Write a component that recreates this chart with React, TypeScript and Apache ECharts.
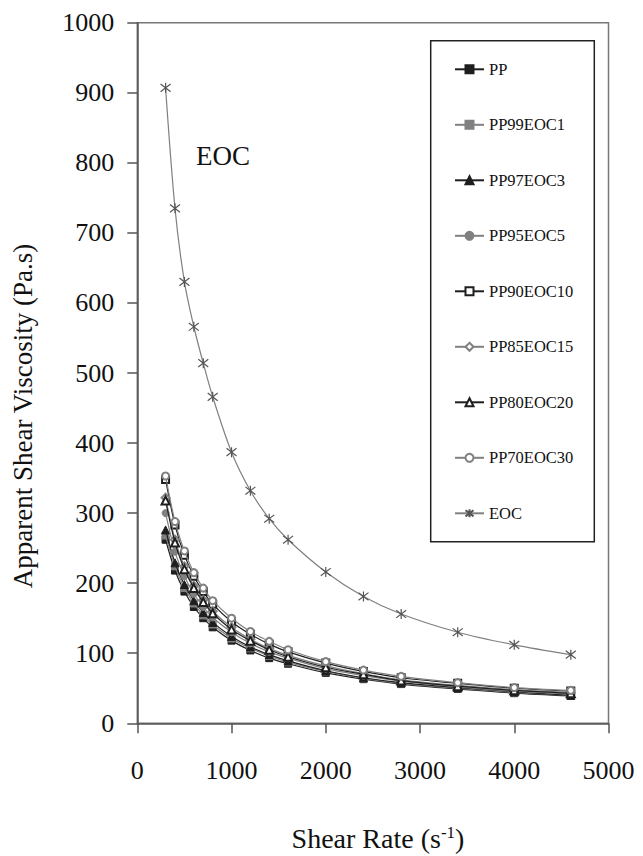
import React, { useEffect, useRef } from "react";
import * as echarts from "echarts";

const shearRates = [300, 400, 500, 600, 700, 800, 1000, 1200, 1400, 1600, 2000, 2400, 2800, 3400, 4000, 4600];

const seriesNames = ["PP", "PP99EOC1", "PP97EOC3", "PP95EOC5", "PP90EOC10", "PP85EOC15", "PP80EOC20", "PP70EOC30", "EOC"];

const ppValues = [262, 218, 188, 166, 150, 137, 118, 104, 93, 85, 72, 63, 56, 49, 43, 39];
const pp99eoc1Values = [268, 224, 193, 171, 154, 141, 121, 107, 96, 87, 74, 64, 57, 50, 44, 40];
const pp97eoc3Values = [276, 229, 198, 175, 158, 144, 124, 109, 98, 89, 75, 65, 58, 51, 45, 40];
const pp95eoc5Values = [300, 245, 210, 185, 166, 151, 130, 114, 102, 93, 78, 68, 60, 52, 46, 42];
const pp90eoc10Values = [348, 283, 240, 210, 188, 170, 145, 127, 113, 102, 86, 74, 65, 57, 50, 46];
const pp85eoc15Values = [322, 262, 224, 196, 176, 160, 137, 120, 107, 97, 82, 71, 62, 54, 48, 44];
const pp80eoc20Values = [318, 258, 220, 193, 173, 157, 134, 118, 105, 95, 80, 70, 61, 53, 47, 43];
const pp70eoc30Values = [353, 288, 246, 215, 193, 175, 150, 131, 117, 105, 88, 76, 67, 58, 51, 47];
const eocValues = [907, 735, 630, 566, 514, 466, 387, 332, 292, 262, 216, 181, 156, 130, 112, 98];

const xTicks = { min: 0, max: 5000, interval: 1000 };
const yTicks = { min: 0, max: 1000, interval: 100 };

const FONT = "Liberation Serif";
const BLACK = "#1e1e1e";
const GRAY = "#808080";
const STAR = "path://M0,0 L10,10 M10,0 L0,10 M5,-1.5 L5,11.5";

const styles = [
  { symbol: "rect", size: 7, color: BLACK },
  { symbol: "rect", size: 7, color: GRAY },
  { symbol: "triangle", size: 8, color: BLACK },
  { symbol: "circle", size: 7, color: GRAY },
  { symbol: "emptyRect", size: 7, color: BLACK },
  { symbol: "emptyDiamond", size: 8, color: GRAY },
  { symbol: "emptyTriangle", size: 8, color: BLACK },
  { symbol: "emptyCircle", size: 7, color: GRAY },
  { symbol: STAR, size: 10, color: GRAY },
];

const allValues = [
  ppValues,
  pp99eoc1Values,
  pp97eoc3Values,
  pp95eoc5Values,
  pp90eoc10Values,
  pp85eoc15Values,
  pp80eoc20Values,
  pp70eoc30Values,
  eocValues,
];

export default function App() {
  const ref = useRef<HTMLDivElement>(null);
  useEffect(() => {
    if (!ref.current) return;
    const chart = echarts.init(ref.current, null, { renderer: "svg" });
    const series = allValues.map((vals, i) => {
      const st = styles[i];
      const isStar = i === 8;
      return {
        name: seriesNames[i],
        type: "line",
        smooth: 0.3,
        data: shearRates.map((x, j) => [x, vals[j]]),
        symbol: st.symbol,
        symbolSize: st.size,
        showAllSymbol: true,
        lineStyle: { color: st.color, width: 1.2 },
        itemStyle: isStar
          ? { color: "#555", borderColor: "#555", borderWidth: 1.2 }
          : { color: st.color, borderColor: st.color, borderWidth: 1 },
        z: isStar ? 3 : 2 + i * 0.01,
      };
    });
    chart.setOption({
      animation: false,
      backgroundColor: "#fff",
      textStyle: { fontFamily: FONT },
      grid: { left: 137.3, top: 22.7, right: 34.5, bottom: 132.7, show: true, borderColor: "#777", borderWidth: 1.5 },
      xAxis: {
        type: "value",
        ...xTicks,
        axisLine: { show: true, lineStyle: { color: "#555", width: 1.5 } },
        axisTick: { show: true, inside: false, length: 10, lineStyle: { color: "#555", width: 1.5 } },
        splitLine: { show: false },
        axisLabel: { fontSize: 26, fontFamily: FONT, color: "#111", margin: 34, formatter: (v: number) => String(v) },
      },
      yAxis: {
        type: "value",
        ...yTicks,
        axisLine: { show: true, lineStyle: { color: "#555", width: 1.5 } },
        axisTick: { show: true, inside: false, length: 10, lineStyle: { color: "#555", width: 1.5 } },
        splitLine: { show: false },
        axisLabel: { fontSize: 26, fontFamily: FONT, color: "#111", margin: 23, formatter: (v: number) => String(v) },
      },
      legend: {
        orient: "vertical",
        left: 454,
        top: 60.3,
        padding: 0,
        itemWidth: 29,
        itemHeight: 10,
        itemGap: 37.5,
        data: seriesNames,
        textStyle: { fontFamily: FONT, fontSize: 16.5, color: "#111", lineHeight: 18 },
      },
      graphic: [
        {
          type: "rect",
          shape: { x: 430.7, y: 40.7, width: 163.6, height: 501 },
          style: { fill: "none", stroke: "#222", lineWidth: 1.5 },
          z: 1,
        },
        {
          type: "text",
          x: 223,
          y: 156,
          style: { text: "EOC", fontFamily: FONT, fontSize: 27, fill: "#111", align: "center", verticalAlign: "middle" },
        },
        {
          type: "text",
          x: 23,
          y: 416,
          rotation: Math.PI / 2,
          style: {
            text: "Apparent Shear Viscosity (Pa.s)",
            fontFamily: FONT,
            fontSize: 27,
            fill: "#111",
            align: "center",
            verticalAlign: "middle",
          },
        },
        {
          type: "text",
          x: 378,
          y: 838,
          style: {
            text: "{a|Shear Rate (s}{sup|-1}{a|)}",
            fontFamily: FONT,
            fill: "#111",
            align: "center",
            verticalAlign: "middle",
            rich: {
              a: { fontSize: 28, fontFamily: FONT, fill: "#111", lineHeight: 29, verticalAlign: "bottom" },
              sup: { fontSize: 17, fontFamily: FONT, fill: "#111", lineHeight: 17, verticalAlign: "top" },
            },
          },
        },
      ],
      series,
    });
    return () => chart.dispose();
  }, []);
  return (
    <div
      ref={ref}
      style={{ position: "absolute", left: 0, top: 0, width: 643, height: 856 }}
    />
  );
}
